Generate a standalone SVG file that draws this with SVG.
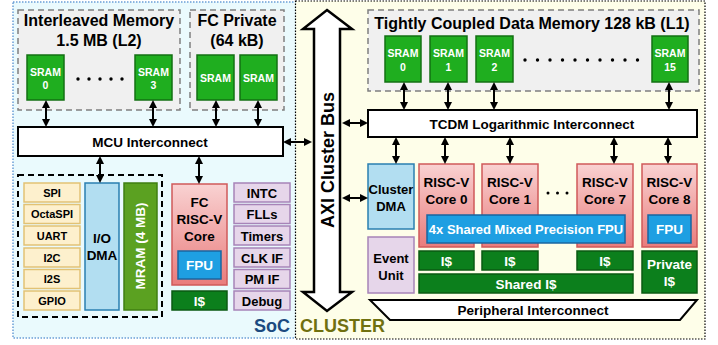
<svg xmlns="http://www.w3.org/2000/svg" width="718" height="345" viewBox="0 0 718 345">
<defs>
  <marker id="ah" viewBox="0 0 8 8" refX="6" refY="4" markerWidth="8" markerHeight="8" markerUnits="userSpaceOnUse" orient="auto-start-reverse">
    <path d="M0,0 L8,4 L0,8 z" fill="#000"/>
  </marker>
  <linearGradient id="core" x1="0" y1="0" x2="0" y2="1">
    <stop offset="0" stop-color="#f9d2d2"/>
    <stop offset="1" stop-color="#e97c7c"/>
  </linearGradient>
</defs>
<style>
  text { font-family: "Liberation Sans", Arial, sans-serif; font-weight: bold; text-anchor: middle; fill: #000; }
  .memgrp { fill: #f0f0f0; stroke: #7f7f7f; stroke-width: 1.5; stroke-dasharray: 6 4; }
  .sram { fill: #1fae1f; stroke: #137013; stroke-width: 1.5; }
  .sramt { fill: #fff; font-size: 10.5px; }
  .ic { fill: #fff; stroke: #000; stroke-width: 2; }
  .ict { font-size: 13.5px; }
  .title { font-size: 16px; }
  .perif { fill: #fdf0cd; stroke: #e2c274; stroke-width: 1.5; }
  .perift { font-size: 11px; }
  .purple { fill: #e6d6ea; stroke: #a784b8; stroke-width: 1.5; }
  .purplet { font-size: 13px; }
  .dma { fill: #b2def1; stroke: #2a7fb0; stroke-width: 1.5; }
  .core { fill: url(#core); stroke: #cf5a5a; stroke-width: 1.5; }
  .coret { font-size: 13.5px; }
  .fpu { fill: #1e9fe2; stroke: #1a66a0; stroke-width: 1.5; }
  .white { fill: #fff; }
  .icache { fill: #0c7f1c; stroke: #0a5a12; stroke-width: 1.5; }
  .arr { stroke: #000; stroke-width: 2; fill: none; marker-start: url(#ah); marker-end: url(#ah); }
</style>

<!-- regions -->
<g id="soc-region">
  <rect x="13" y="2" width="283" height="336" fill="#eafafd" stroke="#6b9fd6" stroke-width="1.5" stroke-dasharray="1.5 1.5"/>
  <text x="290" y="332" style="font-size:18px;text-anchor:end;fill:#1b4a80">SoC</text>
</g>
<g id="cluster-region">
  <rect x="295.5" y="1" width="409.5" height="338" fill="#fefee9" stroke="#000" stroke-width="1.2" stroke-dasharray="1.5 1.5"/>
  <text x="300" y="332" style="font-size:18px;text-anchor:start;fill:#707010">CLUSTER</text>
</g>

<!-- L2 memory -->
<g id="l2-memory">
  <rect class="memgrp" x="18" y="10" width="162" height="100"/>
  <text class="title" x="99" y="26">Interleaved Memory</text>
  <text class="title" x="99" y="46">1.5 MB (L2)</text>
  <g fill="#000">
    <circle cx="78" cy="79" r="1.7"/><circle cx="89" cy="79" r="1.7"/><circle cx="100" cy="79" r="1.7"/><circle cx="111" cy="79" r="1.7"/><circle cx="122" cy="79" r="1.7"/>
  </g>
</g>
<g id="l2-sram0"><rect class="sram" x="27" y="55" width="37" height="45"/><text class="sramt" x="45.5" y="76">SRAM</text><text class="sramt" x="45.5" y="89">0</text></g>
<g id="l2-sram3"><rect class="sram" x="135" y="55" width="37" height="45"/><text class="sramt" x="153.5" y="76">SRAM</text><text class="sramt" x="153.5" y="89">3</text></g>

<g id="fc-private">
  <rect class="memgrp" x="190" y="10" width="94" height="100"/>
  <text class="title" x="237" y="26">FC Private</text>
  <text class="title" x="237" y="46">(64 kB)</text>
</g>
<g id="fc-sram-a"><rect class="sram" x="197" y="55" width="37" height="45"/><text class="sramt" x="215.5" y="82">SRAM</text></g>
<g id="fc-sram-b"><rect class="sram" x="240" y="55" width="37" height="45"/><text class="sramt" x="258.5" y="82">SRAM</text></g>

<g id="mcu-interconnect"><rect class="ic" x="18" y="127" width="265" height="29"/><text class="ict" x="150" y="147">MCU Interconnect</text></g>

<!-- SoC peripherals -->
<g id="periph-group"><rect x="18" y="175" width="144" height="142" fill="none" stroke="#000" stroke-width="2" stroke-dasharray="6 4"/></g>
<g id="spi"><rect class="perif" x="24" y="183" width="56" height="19"/><text class="perift" x="52" y="196.5">SPI</text></g>
<g id="octaspi"><rect class="perif" x="24" y="204.5" width="56" height="19"/><text class="perift" x="52" y="218">OctaSPI</text></g>
<g id="uart"><rect class="perif" x="24" y="226" width="56" height="19"/><text class="perift" x="52" y="239.5">UART</text></g>
<g id="i2c"><rect class="perif" x="24" y="248" width="56" height="19"/><text class="perift" x="52" y="261.5">I2C</text></g>
<g id="i2s"><rect class="perif" x="24" y="269.5" width="56" height="19"/><text class="perift" x="52" y="283">I2S</text></g>
<g id="gpio"><rect class="perif" x="24" y="291" width="56" height="19"/><text class="perift" x="52" y="304.5">GPIO</text></g>

<g id="io-dma"><rect class="dma" x="85" y="183" width="34" height="127"/><text class="coret" x="102" y="243">I/O</text><text class="coret" x="102" y="260">DMA</text></g>
<g id="mram"><rect x="124" y="183" width="33" height="127" fill="#5ba121" stroke="#3f7f12" stroke-width="1.5"/><text class="coret white" transform="translate(145,246) rotate(-90)">MRAM (4 MB)</text></g>

<g id="fc-core">
  <rect class="core" x="172" y="184" width="55" height="101"/>
  <text class="coret" x="199.5" y="207">FC</text>
  <text class="coret" x="199.5" y="224">RISC-V</text>
  <text class="coret" x="199.5" y="241">Core</text>
  <rect class="fpu" x="178" y="251" width="43" height="28"/>
  <text class="coret white" x="199.5" y="270">FPU</text>
</g>
<g id="fc-icache"><rect class="icache" x="172" y="291" width="55" height="19"/><text class="coret white" x="199.5" y="305.5">I$</text></g>

<g id="intc"><rect class="purple" x="234" y="183" width="56" height="19"/><text class="purplet" x="262" y="197.5">INTC</text></g>
<g id="flls"><rect class="purple" x="234" y="204.5" width="56" height="19"/><text class="purplet" x="262" y="219">FLLs</text></g>
<g id="timers"><rect class="purple" x="234" y="226" width="56" height="19"/><text class="purplet" x="262" y="240.5">Timers</text></g>
<g id="clkif"><rect class="purple" x="234" y="248" width="56" height="19"/><text class="purplet" x="262" y="262.5">CLK IF</text></g>
<g id="pmif"><rect class="purple" x="234" y="269.5" width="56" height="19"/><text class="purplet" x="262" y="284">PM IF</text></g>
<g id="debug"><rect class="purple" x="234" y="291" width="56" height="19"/><text class="purplet" x="262" y="305.5">Debug</text></g>

<!-- AXI bus -->
<g id="axi-bus">
  <polygon points="327,10 352,29 340,29 340,292 352,292 327,311 303,292 314,292 314,29 303,29" fill="#fff" stroke="#000" stroke-width="2.5" stroke-linejoin="miter"/>
  <text transform="translate(333.5,160) rotate(-90)" style="font-size:18px">AXI Cluster Bus</text>
</g>

<!-- TCDM -->
<g id="tcdm">
  <rect class="memgrp" x="368" y="10" width="331" height="81"/>
  <text class="title" x="532" y="28.5">Tightly Coupled Data Memory 128 kB (L1)</text>
  <g fill="#000">
    <circle cx="525" cy="60" r="1.7"/><circle cx="537.5" cy="60" r="1.7"/><circle cx="550" cy="60" r="1.7"/><circle cx="562.5" cy="60" r="1.7"/><circle cx="575" cy="60" r="1.7"/>
    <circle cx="587.5" cy="60" r="1.7"/><circle cx="600" cy="60" r="1.7"/><circle cx="612.5" cy="60" r="1.7"/><circle cx="625" cy="60" r="1.7"/><circle cx="637.5" cy="60" r="1.7"/>
  </g>
</g>
<g id="tcdm-sram0"><rect class="sram" x="385" y="36" width="36" height="46"/><text class="sramt" x="403" y="57">SRAM</text><text class="sramt" x="403" y="71">0</text></g>
<g id="tcdm-sram1"><rect class="sram" x="430" y="36" width="37" height="46"/><text class="sramt" x="448.5" y="57">SRAM</text><text class="sramt" x="448.5" y="71">1</text></g>
<g id="tcdm-sram2"><rect class="sram" x="476" y="36" width="37" height="46"/><text class="sramt" x="494.5" y="57">SRAM</text><text class="sramt" x="494.5" y="71">2</text></g>
<g id="tcdm-sram15"><rect class="sram" x="652" y="36" width="36" height="46"/><text class="sramt" x="670" y="57">SRAM</text><text class="sramt" x="670" y="71">15</text></g>

<g id="tcdm-interconnect"><rect class="ic" x="368" y="110" width="329" height="27"/><text class="ict" x="532" y="129">TCDM Logarithmic Interconnect</text></g>

<g id="cluster-dma"><rect class="dma" x="368" y="164" width="46" height="65"/><text class="purplet" x="391" y="194">Cluster</text><text class="purplet" x="391" y="211">DMA</text></g>
<g id="event-unit"><rect class="purple" x="368" y="237" width="46" height="56"/><text class="purplet" x="391" y="263">Event</text><text class="purplet" x="391" y="280">Unit</text></g>

<g id="core0"><rect class="core" x="419" y="164" width="55" height="83"/><text class="coret" x="446.5" y="187">RISC-V</text><text class="coret" x="446.5" y="204">Core 0</text></g>
<g id="core1"><rect class="core" x="482" y="164" width="56" height="83"/><text class="coret" x="510" y="187">RISC-V</text><text class="coret" x="510" y="204">Core 1</text></g>
<g id="core7"><rect class="core" x="577" y="164" width="56" height="83"/><text class="coret" x="605" y="187">RISC-V</text><text class="coret" x="605" y="204">Core 7</text></g>
<g id="core8"><rect class="core" x="642" y="164" width="55" height="83"/><text class="coret" x="669.5" y="187">RISC-V</text><text class="coret" x="669.5" y="204">Core 8</text>
  <rect class="fpu" x="648" y="215" width="43" height="28"/><text class="coret white" x="669.5" y="234">FPU</text></g>
<g id="core-dots" fill="#000"><circle cx="548" cy="193" r="1.5"/><circle cx="557.5" cy="193" r="1.5"/><circle cx="567" cy="193" r="1.5"/></g>

<g id="shared-fpu"><rect class="fpu" x="427" y="215" width="198" height="28"/><text class="white" x="526" y="234" style="font-size:13px">4x Shared Mixed Precision FPU</text></g>

<g id="icache0"><rect class="icache" x="419" y="251" width="55" height="19"/><text class="coret white" x="446.5" y="265.5">I$</text></g>
<g id="icache1"><rect class="icache" x="482" y="251" width="56" height="19"/><text class="coret white" x="510" y="265.5">I$</text></g>
<g id="icache7"><rect class="icache" x="577" y="251" width="56" height="19"/><text class="coret white" x="605" y="265.5">I$</text></g>
<g id="shared-icache"><rect class="icache" x="419" y="274" width="214" height="19"/><text class="coret white" x="526" y="288.5">Shared I$</text></g>
<g id="private-icache"><rect class="icache" x="642" y="251" width="55" height="42"/><text class="coret white" x="669.5" y="269">Private</text><text class="coret white" x="669.5" y="286">I$</text></g>

<g id="peripheral-interconnect">
  <polygon points="370,300 697,300 680,320 390,320" fill="#fff" stroke="#000" stroke-width="2"/>
  <text class="ict" x="533" y="315">Peripheral Interconnect</text>
</g>

<!-- connectors -->
<g id="connectors">
  <line class="arr" x1="46" y1="102" x2="46" y2="125"/>
  <line class="arr" x1="153" y1="102" x2="153" y2="125"/>
  <line class="arr" x1="216" y1="102" x2="216" y2="125"/>
  <line class="arr" x1="258" y1="102" x2="258" y2="125"/>
  <line class="arr" x1="100" y1="158" x2="100" y2="181"/>
  <line class="arr" x1="199" y1="158" x2="199" y2="182"/>
  <line class="arr" x1="285" y1="142" x2="310" y2="142"/>
  <line class="arr" x1="344" y1="123" x2="366" y2="123"/>
  <line class="arr" x1="344" y1="198" x2="366" y2="198"/>
  <line class="arr" x1="404" y1="84" x2="404" y2="108"/>
  <line class="arr" x1="448" y1="84" x2="448" y2="108"/>
  <line class="arr" x1="494" y1="84" x2="494" y2="108"/>
  <line class="arr" x1="669" y1="84" x2="669" y2="108"/>
  <line class="arr" x1="396" y1="139" x2="396" y2="162"/>
  <line class="arr" x1="445" y1="139" x2="445" y2="162"/>
  <line class="arr" x1="510" y1="139" x2="510" y2="162"/>
  <line class="arr" x1="614" y1="139" x2="614" y2="162"/>
  <line class="arr" x1="668" y1="139" x2="668" y2="162"/>
</g>
</svg>
